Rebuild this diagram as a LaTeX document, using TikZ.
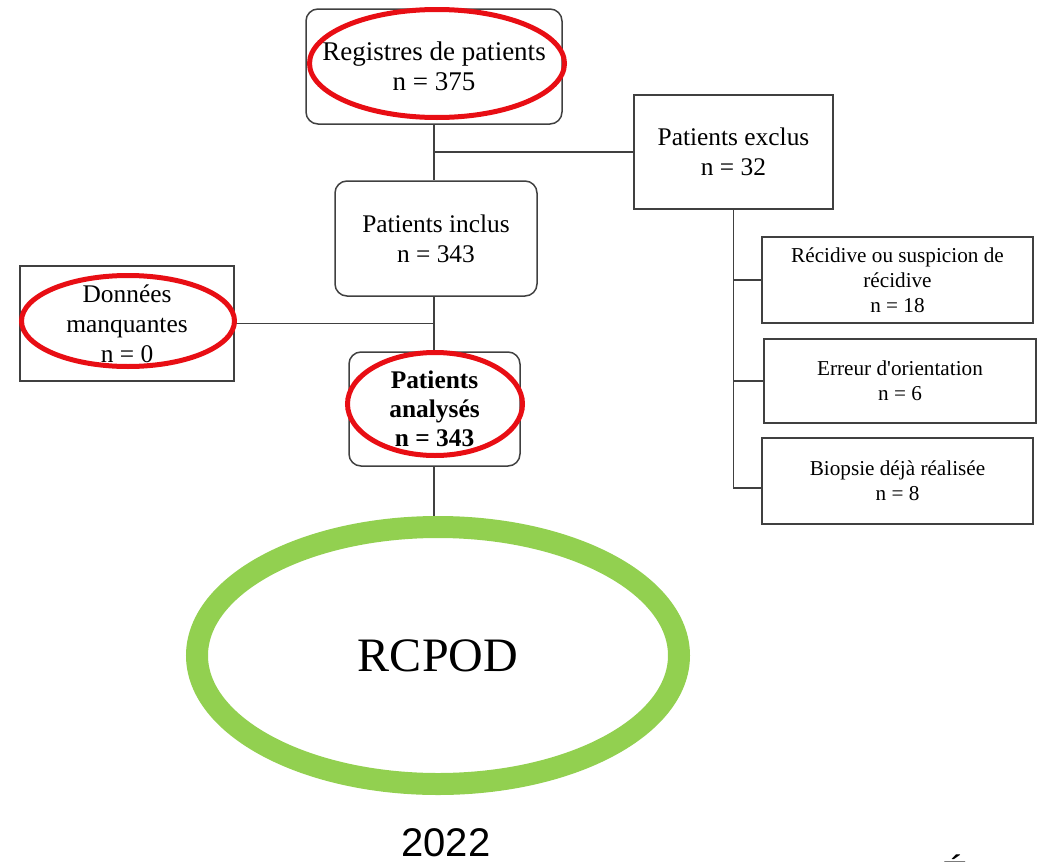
\documentclass[tikz,border=0pt]{standalone}
\usepackage{fontspec}
\setmainfont{Liberation Serif}
\newfontfamily\yearfont{Liberation Sans}
\usetikzlibrary{calc,shapes.geometric}
\definecolor{ringgreen}{RGB}{146,208,80}
\definecolor{markred}{RGB}{232,14,20}

\begin{document}
\begin{tikzpicture}[x=0.5pt, y=-0.5pt,
  every node/.append style={align=center, font=\fontsize{12.7}{15}\selectfont},
  roundbox/.style={draw=black!75, line width=0.75pt, rounded corners=6pt, inner sep=0pt},
  sharpbox/.style={draw=black!75, line width=0.75pt, inner sep=0pt},
  smalltext/.style={font=\fontsize{10.6}{12.6}\selectfont},
  link/.style={draw=black!75, line width=0.75pt},
  redmark/.style={draw=markred, line width=2.5pt},
]
  \useasboundingbox (0,0) rectangle (1039,862);
  % main column
  \node[roundbox, minimum width=128pt, minimum height=57.5pt, font=\fontsize{13.5}{15}\selectfont]
    (reg) at (434,66.5) {Registres de patients\\n = 375};
  \node[roundbox, minimum width=101pt, minimum height=57.5pt]
    (incl) at (436,238.5) {Patients inclus\\n = 343};
  \node[roundbox, minimum width=85.5pt, minimum height=57pt, font=\fontsize{12.7}{14.5}\bfseries]
    (anal) at (434.5,409) {Patients\\analysés\\n = 343};
  % side boxes
  \node[sharpbox, minimum width=99.5pt, minimum height=57pt]
    (excl) at (733.5,152) {Patients exclus\\n = 32};
  \node[sharpbox, minimum width=107pt, minimum height=57.5pt]
    (donn) at (127,323.5) {Données\\manquantes\\n = 0};
  \node[sharpbox, smalltext, minimum width=135.5pt, minimum height=43pt]
    (rec) at (897.5,280) {Récidive ou suspicion de\\récidive\\n = 18};
  \node[sharpbox, smalltext, minimum width=136pt, minimum height=42pt]
    (err) at (900,381) {Erreur d\textquotesingle orientation\\n = 6};
  \node[sharpbox, smalltext, minimum width=135.5pt, minimum height=43pt]
    (bio) at (897.5,481) {Biopsie déjà réalisée\\n = 8};
  % green ring
  \node[ellipse, draw=ringgreen, line width=11pt, minimum width=241pt, minimum height=128.5pt,
    font=\fontsize{24}{28}\selectfont] (ring) at (438,655.5) {RCPOD};
  % connectors
  \draw[link] (reg.south -| 434,0) -- (incl.north -| 434,0);
  \draw[link] (excl.west) -- (excl.west -| 434,0);
  \draw[link] (incl.south -| 434,0) -- (anal.north -| 434,0);
  \draw[link] (donn.east) -- (donn.east -| 434,0);
  \draw[link] (anal.south -| 434,0) -- (ring.north -| 434,0);
  \draw[link] (excl.south) |- ($(bio.west)+(0,7)$);
  \draw[link] (rec.west) -- (rec.west -| excl.south);
  \draw[link] (err.west) -- (err.west -| excl.south);
  % red marks
  \draw[redmark] (437,63.5) ellipse [x radius=127.5, y radius=54];
  \draw[redmark] (128,321) ellipse [x radius=106.5, y radius=45.5];
  \draw[redmark] (435,404) ellipse [x radius=87.5, y radius=51.5];
  % caption
  \node[font=\yearfont\fontsize{20}{24}\selectfont, inner sep=0pt] (year) at (446,843) {2022};
  \node[font=\yearfont\fontsize{20}{24}\selectfont, anchor=north, inner sep=0pt] (cut) at (955,854) {É};
\end{tikzpicture}
\end{document}
